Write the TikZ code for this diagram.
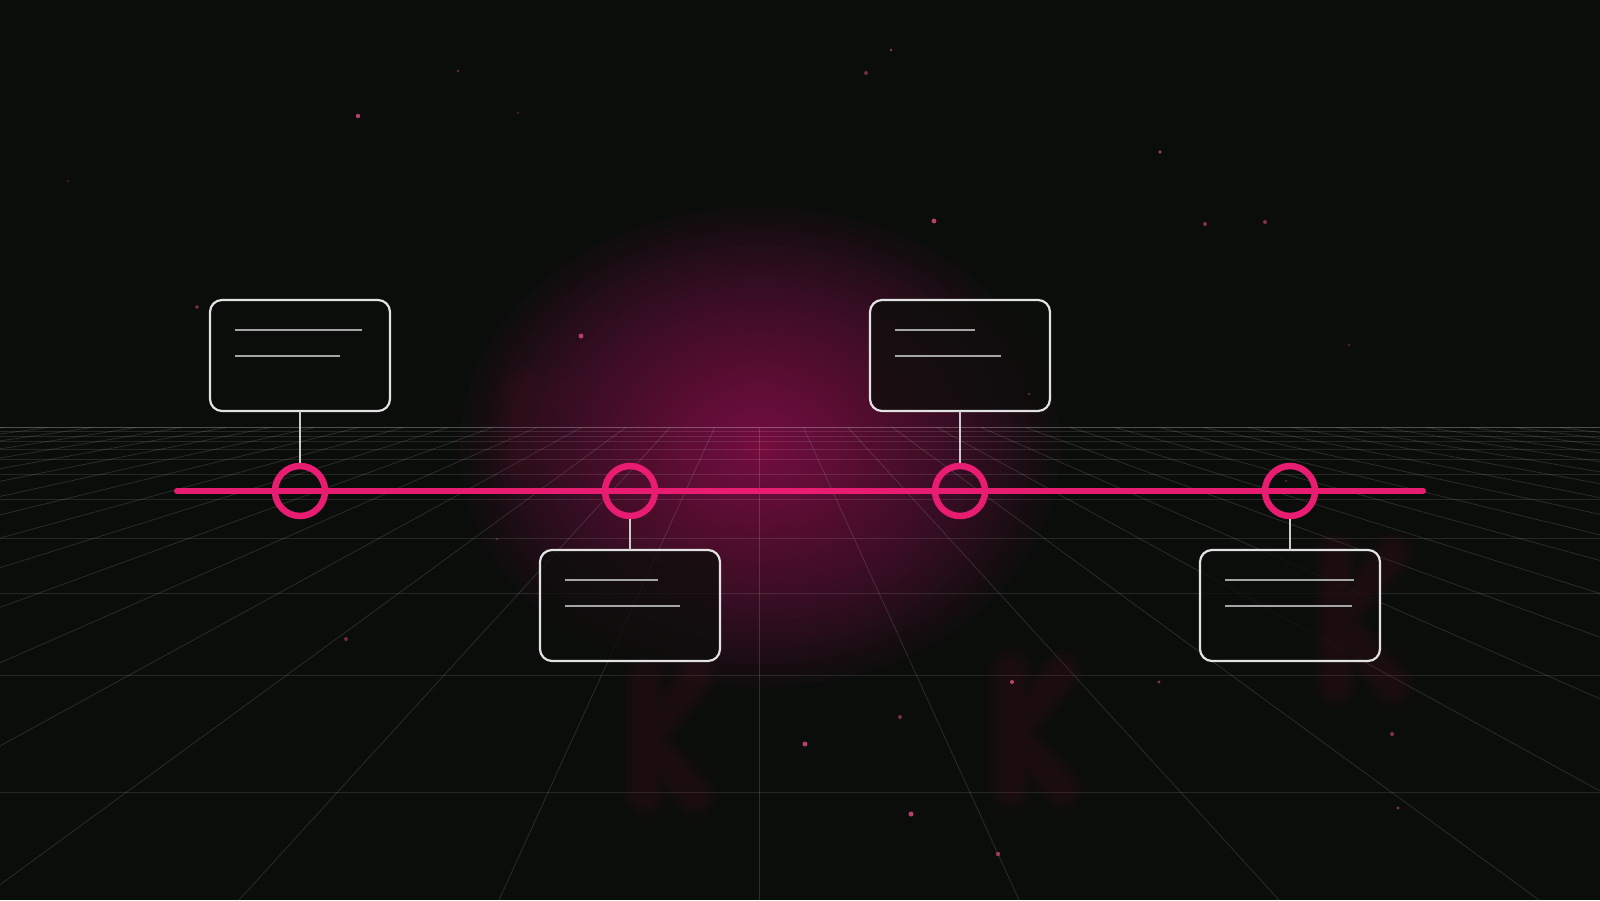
\documentclass[tikz,border=0pt]{standalone}
\definecolor{bg}{RGB}{11,13,11}
\definecolor{pinkc}{RGB}{232,28,112}
\definecolor{glowc}{RGB}{150,26,88}
\definecolor{boxc}{RGB}{226,226,226}
\definecolor{txtc}{RGB}{165,165,165}
\definecolor{connc}{RGB}{205,205,205}
\definecolor{dotc}{RGB}{215,72,122}
\definecolor{kcol}{RGB}{125,14,56}

\tikzset{
  glowlayer/.style={fill=glowc, opacity=0.035},
  boxfill/.style={rectangle, rounded corners=12pt, fill=bg, fill opacity=0.75, minimum width=180pt, minimum height=111pt, inner sep=0pt, outer sep=0pt},
  boxline/.style={draw=boxc, line width=2.2pt, rounded corners=12pt},
  txtline/.style={draw=txtc, line width=2.3pt},
  conn/.style={draw=connc, line width=2pt},
  timeline/.style={draw=pinkc, line width=6pt, line cap=round},
  ring/.style={circle, draw=pinkc, line width=6.5pt, minimum size=50pt, inner sep=0pt},
  gridh/.style={draw=white, line width=0.9pt, opacity=0.11},
  gridv/.style={draw=white, line width=0.7pt, opacity=0.14},
  kstroke/.style={draw=kcol, line cap=round},
  star/.style={fill=dotc}
}

\newcommand\softK[7]{% stem x, top y, bottom y, junction y, arm end x, top arm y, strength
  \foreach \w in {46,36,27,20}{
    \draw[kstroke, line width=\w pt, opacity=#7]
      (#1,#2) -- (#1,#3)
      (#1,#4) -- (#5,#6)
      (#1,#4) -- (#5,#3);
  }
}

\begin{document}
\begin{tikzpicture}[x=1pt,y=-1pt]
\useasboundingbox (0,0) rectangle (1600,900);
\fill[bg] (0,0) rectangle (1600,900);
\begin{scope}
\clip (0,0) rectangle (1600,900);
% glow: stacked translucent ellipses
\foreach \i in {1,...,60}
  \fill[glowlayer] (760,447) ellipse ({300*(\i/60)^2} and {240*(\i/60)^2});
% perspective grid
\draw[draw=white, line width=1pt, opacity=0.28] (0,427.5) -- (1600,427.5);
\foreach \y in {431.5,436,441,449,459,474,499,538,593,675,792}
  \draw[gridh] (0,\y) -- (1600,\y);
\foreach \k in {-26,...,26}
  \draw[gridv] ({759+\k*44.47},427.5) -- ({759+\k*260},900);
\end{scope}

% box backgrounds
\node[boxfill] (b1) at (300,355.5) {};
\node[boxfill] (b2) at (630,605.5) {};
\node[boxfill] (b3) at (960,355.5) {};
\node[boxfill] (b4) at (1290,605.5) {};

% faint blurred K letters
\softK{645}{680}{795}{737}{695}{680}{0.042}
\softK{1011}{670}{788}{733}{1062}{672}{0.042}
\softK{1336}{553}{685}{620}{1393}{553}{0.042}
\softK{521}{388}{468}{428}{560}{390}{0.022}

% box outlines
\draw[boxline] (b1.north west) rectangle (b1.south east);
\draw[boxline] (b2.north west) rectangle (b2.south east);
\draw[boxline] (b3.north west) rectangle (b3.south east);
\draw[boxline] (b4.north west) rectangle (b4.south east);

% placeholder text lines
\draw[txtline] ([xshift=25pt,yshift=-30pt]b1.north west) -- ++(127,0);
\draw[txtline] ([xshift=25pt,yshift=-56pt]b1.north west) -- ++(105,0);
\draw[txtline] ([xshift=25pt,yshift=-30pt]b2.north west) -- ++(93,0);
\draw[txtline] ([xshift=25pt,yshift=-56pt]b2.north west) -- ++(115,0);
\draw[txtline] ([xshift=25pt,yshift=-30pt]b3.north west) -- ++(80,0);
\draw[txtline] ([xshift=25pt,yshift=-56pt]b3.north west) -- ++(106,0);
\draw[txtline] ([xshift=25pt,yshift=-30pt]b4.north west) -- ++(129,0);
\draw[txtline] ([xshift=25pt,yshift=-56pt]b4.north west) -- ++(127,0);

% timeline
\coordinate (tl) at (177,491);
\coordinate (tr) at (1423,491);
\draw[timeline] (tl) -- (tr);
\node[ring] (c1) at (300,491) {};
\node[ring] (c2) at (630,491) {};
\node[ring] (c3) at (960,491) {};
\node[ring] (c4) at (1290,491) {};

% connectors
\draw[conn] (b1.south) -- (c1.north);
\draw[conn] (c2.south) -- (b2.north);
\draw[conn] (b3.south) -- (c3.north);
\draw[conn] (c4.south) -- (b4.north);

% particles
\foreach \x/\y/\r/\o in {
  458/71/1.5/0.45, 891/50/1.4/0.7, 866/73/2/0.5, 358/116/2.2/0.85, 518/113/1.1/0.4,
  68/181/1.1/0.35, 1160/152/1.8/0.75, 934/221/2.4/0.85, 1205/224/2/0.6, 1265/222/2/0.6,
  197/307/1.8/0.6, 581/336/2.5/0.8, 1349/345/1.3/0.35, 1029/394/1.3/0.4, 497/539/1.5/0.35,
  346/639/2/0.5, 1012/682/2/0.85, 1159/682/1.7/0.6, 900/717/2/0.55, 805/744/2.5/0.85,
  1392/734/2/0.6, 911/814/2.5/0.85, 1398/808/1.7/0.6, 998/854/2.2/0.7, 1286/481/1.2/0.45}
  \fill[star, opacity=\o] (\x,\y) circle (\r);
\end{tikzpicture}
\end{document}
